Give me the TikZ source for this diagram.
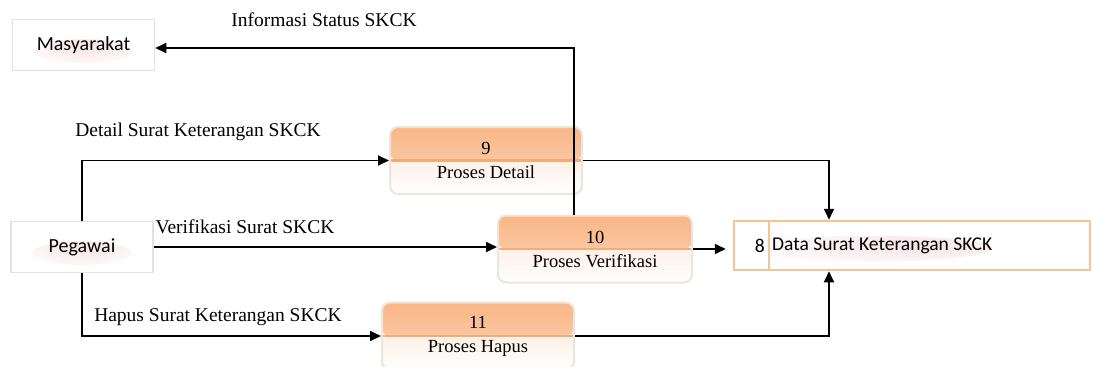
\documentclass[tikz,border=0pt]{standalone}
\usepackage{fontspec}
\setmainfont{Liberation Serif}
\newfontfamily\calib{Carlito}
\usetikzlibrary{positioning}
\usetikzlibrary{arrows.meta}
\definecolor{procdark}{RGB}{249,182,134}
\definecolor{proclight}{RGB}{252,214,188}
\definecolor{procpale}{RGB}{254,240,230}
\definecolor{procline}{RGB}{244,172,118}
\definecolor{procedge}{RGB}{234,230,222}
\definecolor{storeedge}{RGB}{245,196,148}
\definecolor{entedge}{RGB}{226,226,226}
\definecolor{glow}{RGB}{247,228,230}
\tikzset{
    entity/.style = {rectangle, draw=entedge, line width=1.5pt, fill=white, minimum width=142pt, minimum height=51pt, font=\calib\fontsize{20}{24}\selectfont,
      path picture={\shade[inner color=glow, outer color=white] ([yshift=-6pt]path picture bounding box.center) ellipse (50pt and 12pt);}},
    proses/.style = {rectangle, rounded corners=8pt, draw=procedge, line width=2pt, minimum width=192pt, minimum height=67pt, align=center, font=\fontsize{18.5}{24}\selectfont,
      path picture={
        \shade[top color=procdark, bottom color=proclight] (path picture bounding box.north west) rectangle (path picture bounding box.east);
        \shade[top color=procpale, bottom color=white] (path picture bounding box.west) rectangle (path picture bounding box.south east);
        \draw[procline, line width=2.5pt] (path picture bounding box.west) -- (path picture bounding box.east);}},
    store/.style = {rectangle, draw=storeedge, line width=2.5pt, fill=white, minimum width=356pt, minimum height=49pt,
      path picture={\shade[inner color=glow, outer color=white] ([xshift=-40pt,yshift=-3pt]path picture bounding box.center) ellipse (120pt and 13pt);}},
    flow/.style = {-{Triangle[length=11pt,width=10pt]}, line width=1.8pt, black},
    lbl/.style = {font=\fontsize{19.5}{23}\selectfont}
}
\begin{document}
\begin{tikzpicture}[x=1pt, y=-1pt]
  \useasboundingbox (0,0) rectangle (1093,367);

  % external entities
  \node[entity] (mas) at (83.5,45) {Masyarakat};
  \node[entity] (peg) at (82,247) {Pegawai};

  % processes
  \node[proses] (p9) at (486,160.5) {9\\Proses Detail};
  \node[proses, minimum width=194pt] (p10) at (595,249) {10\\Proses Verifikasi};
  \node[proses] (p11) at (478,336) {11\\Proses Hapus};

  % data store
  \node[store] (ds) at (912,245.5) {};
  \draw[storeedge, line width=2.5pt] ([xshift=36pt]ds.north west) -- ([xshift=36pt]ds.south west);
  \node[font=\calib\fontsize{19.5}{24}\selectfont, anchor=east, inner sep=2pt] (dsno) at (767,245.5) {8};
  \node[font=\calib\fontsize{19.5}{24}\selectfont, anchor=west, inner sep=2pt] (dsname) at (770,245.5) {Data Surat Keterangan SKCK};

  % flow labels
  \node[lbl] (linfo) at (324,20) {Informasi Status SKCK};
  \node[lbl] (ldetail) at (198,132) {Detail Surat Keterangan SKCK};
  \node[lbl] (lverif) at (245,227) {Verifikasi Surat SKCK};
  \node[lbl] (lhapus) at (218,317) {Hapus Surat Keterangan SKCK};

  % flows
  \coordinate (upx) at (574,48);
  \coordinate (dsx) at (829,0);
  \draw[flow] (p10.north -| upx) -- (upx) -- (mas.east |- upx);
  \draw[flow] (peg.north) |- (p9.west);
  \draw[flow] (peg.east) -- (p10.west |- peg.east);
  \draw[flow] (peg.south) |- (p11.west);
  \draw[flow] (p9.east) -| (ds.north -| dsx);
  \draw[flow, shorten >=7pt] (p10.east) -- (ds.west |- p10.east);
  \draw[flow] (p11.east) -| (ds.south -| dsx);
\end{tikzpicture}
\end{document}
